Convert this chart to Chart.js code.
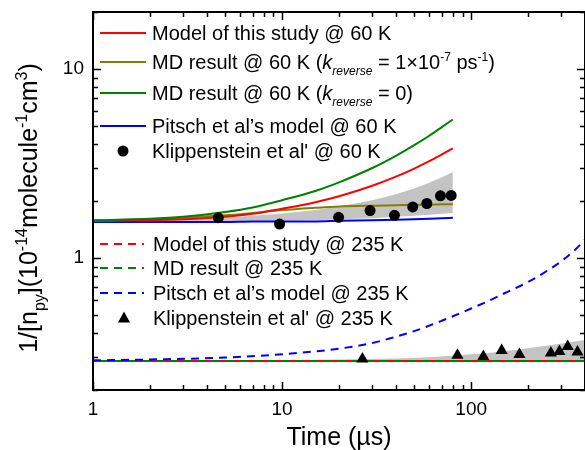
<!DOCTYPE html>
<html>
<head>
<meta charset="utf-8">
<script src="https://cdn.jsdelivr.net/npm/chart.js@4.4.1/dist/chart.umd.min.js"></script>
<style>
  html, body { margin: 0; padding: 0; background: #fff; }
  #wrap { width: 585px; height: 450px; }
</style>
</head>
<body>
<div id="wrap"><canvas id="chart" width="585" height="450"></canvas></div>
<script>
const FONT = 'Arial, "Liberation Sans", sans-serif';

// 60 K, solid curves (time in µs)
const t60 = [1, 2, 3, 5, 7, 10, 15, 20, 30, 40, 50, 60, 70, 80];
const model60 = [1.57, 1.58, 1.60, 1.65, 1.71, 1.82, 1.97, 2.12, 2.41, 2.69, 2.97, 3.25, 3.53, 3.80];
const mdRev60 = [1.57, 1.60, 1.63, 1.68, 1.73, 1.79, 1.84, 1.87, 1.89, 1.90, 1.91, 1.91, 1.92, 1.92];
const mdZero60 = [1.58, 1.61, 1.65, 1.75, 1.85, 2.02, 2.26, 2.51, 2.99, 3.47, 3.95, 4.43, 4.92, 5.40];
const pitsch60 = [1.55, 1.55, 1.55, 1.55, 1.56, 1.56, 1.56, 1.57, 1.58, 1.59, 1.60, 1.61, 1.62, 1.63];
const band60Upper = [1.57, 1.58, 1.60, 1.63, 1.67, 1.72, 1.79, 1.87, 2.02, 2.17, 2.33, 2.50, 2.67, 2.85];
const band60Lower = [1.55, 1.55, 1.55, 1.56, 1.56, 1.57, 1.58, 1.60, 1.62, 1.65, 1.67, 1.69, 1.71, 1.73];
const klipT60 = [4.6, 9.7, 19.9, 29.2, 39.3, 49.1, 58.3, 68.8, 78.4];
const klipV60 = [1.63, 1.51, 1.64, 1.78, 1.68, 1.86, 1.94, 2.13, 2.14];

// 235 K, dashed curves
const t235 = [1, 2, 5, 10, 20, 30, 50, 70, 100, 126, 150, 200, 250, 300, 350, 400];
const model235 = [0.285, 0.285, 0.285, 0.285, 0.285, 0.285, 0.285, 0.285, 0.285, 0.285, 0.285, 0.285, 0.285, 0.285, 0.285, 0.285];
const md235 = [0.285, 0.285, 0.285, 0.285, 0.285, 0.285, 0.285, 0.285, 0.285, 0.285, 0.285, 0.285, 0.285, 0.285, 0.285, 0.285];
const pitsch235 = [0.287, 0.29, 0.297, 0.309, 0.331, 0.355, 0.41, 0.465, 0.54, 0.597, 0.65, 0.745, 0.85, 0.96, 1.09, 1.25];
const tBand235 = [1, 10, 20, 40, 60, 85, 120, 170, 250, 400];
const band235Upper = [0.287, 0.288, 0.290, 0.294, 0.298, 0.305, 0.313, 0.326, 0.343, 0.368];
const band235Lower = [0.283, 0.283, 0.283, 0.283, 0.283, 0.283, 0.283, 0.283, 0.283, 0.283];
const klipT235 = [26.6, 84.6, 116, 145, 180, 264, 293, 324, 365];
const klipV235 = [0.292, 0.305, 0.301, 0.324, 0.308, 0.314, 0.320, 0.340, 0.318];

// axes
const xTicks = [1, 2, 3, 4, 5, 6, 7, 8, 9, 10, 20, 30, 40, 50, 60, 70, 80, 90, 100, 200, 300, 400];
const xLabels = { 1: '1', 10: '10', 100: '100' };
const yTicks = [0.2, 0.3, 0.4, 0.5, 0.6, 0.7, 0.8, 0.9, 1, 2, 3, 4, 5, 6, 7, 8, 9, 10, 20];
const yLabels = { 1: '1', 10: '10' };
const xTitle = 'Time (\u00b5s)';
const yTitle = [{ text: '1/[n' }, { text: 'py', sub: true }, { text: '](10' }, { text: '-14', sup: true },
  { text: 'molecule' }, { text: '-1', sup: true }, { text: 'cm' }, { text: '3', sup: true }, { text: ')' }];

const legend60 = [
  { color: '#ff0000', parts: [{ text: 'Model of this study @ 60 K' }] },
  { color: '#808000', parts: [{ text: 'MD result @ 60 K (' }, { text: 'k', italic: true }, { text: 'reverse', sub: true, italic: true },
    { text: ' = 1\u00d710' }, { text: '-7', sup: true }, { text: ' ps' }, { text: '-1', sup: true }, { text: ')' }] },
  { color: '#008000', parts: [{ text: 'MD result @ 60 K (' }, { text: 'k', italic: true }, { text: 'reverse', sub: true, italic: true }, { text: ' = 0)' }] },
  { color: '#0000ff', parts: [{ text: 'Pitsch et al\u2019s model @ 60 K' }] },
  { marker: 'circle', parts: [{ text: "Klippenstein et al' @ 60 K" }] }
];
const legend235 = [
  { color: '#ff0000', dash: true, parts: [{ text: 'Model of this study @ 235 K' }] },
  { color: '#008000', dash: true, parts: [{ text: 'MD result @ 235 K' }] },
  { color: '#0000ff', dash: true, parts: [{ text: 'Pitsch et al\u2019s model @ 235 K' }] },
  { marker: 'triangle', parts: [{ text: "Klippenstein et al' @ 235 K" }] }
];

const pts = (xs, ys) => xs.map((x, i) => ({ x, y: ys[i] }));

const lineSet = (data, color, dashed, offset = 0) => ({
  data, borderColor: color, borderWidth: 2, pointRadius: 0, fill: false,
  borderDash: dashed ? [8, 6] : [], borderDashOffset: offset, cubicInterpolationMode: 'monotone'
});
const bandSet = (data, fill) => ({
  data, borderWidth: 0, pointRadius: 0, fill, backgroundColor: '#c3c3c3', borderColor: 'rgba(0,0,0,0)'
});
const markerSet = (data, style, r) => ({
  data, showLine: false, pointStyle: style, pointRadius: r, pointBackgroundColor: '#000', pointBorderColor: '#000', pointBorderWidth: 0
});

const drawRich = (ctx, parts, x, y, size, scale = 0.64) => {
  let cx = x;
  parts.forEach(p => {
    const small = p.sub || p.sup;
    const fs = small ? Math.round(size * scale) : size;
    ctx.font = `${p.italic ? 'italic ' : ''}${fs}px ${FONT}`;
    const dy = p.sub ? size * 0.32 : p.sup ? -size * 0.42 : 0;
    ctx.fillText(p.text, cx, y + dy);
    cx += ctx.measureText(p.text).width;
  });
  return cx - x;
};

const measureRich = (ctx, parts, size, scale = 0.64) => {
  let w = 0;
  parts.forEach(p => {
    const fs = (p.sub || p.sup) ? Math.round(size * scale) : size;
    ctx.font = `${p.italic ? 'italic ' : ''}${fs}px ${FONT}`;
    w += ctx.measureText(p.text).width;
  });
  return w;
};

const drawLegendBlock = (ctx, items, x0, x1, ys, textX) => {
  items.forEach((it, i) => {
    const y = ys[i];
    if (it.marker) {
      ctx.fillStyle = '#000';
      ctx.beginPath();
      if (it.marker === 'circle') {
        ctx.arc((x0 + x1) / 2, y, 5.5, 0, Math.PI * 2);
      } else {
        const cx = (x0 + x1) / 2 + 2;
        ctx.moveTo(cx, y - 6.5); ctx.lineTo(cx + 6, y + 4.5); ctx.lineTo(cx - 6, y + 4.5); ctx.closePath();
      }
      ctx.fill();
    } else {
      ctx.strokeStyle = it.color; ctx.lineWidth = 2;
      ctx.setLineDash(it.dash ? [8, 6] : []);
      ctx.beginPath(); ctx.moveTo(x0, y); ctx.lineTo(x1, y); ctx.stroke();
      ctx.setLineDash([]);
    }
    ctx.fillStyle = '#000';
    ctx.textBaseline = 'alphabetic';
    drawRich(ctx, it.parts, textX, y + 7, 20, 0.58);
  });
};

const noPad = s => { s.paddingTop = 0; s.paddingBottom = 0; s.paddingLeft = 0; s.paddingRight = 0; };

const framePlugin = {
  id: 'frame',
  afterDraw(chart) {
    const { ctx, chartArea: a, scales: { x, y } } = chart;
    ctx.save();
    ctx.strokeStyle = '#000';
    ctx.lineWidth = 1.5;
    ctx.beginPath();
    xTicks.forEach(v => {
      const px = Math.round(x.getPixelForValue(v)) + 0.5;
      const len = xLabels[v] ? 8 : 5;
      ctx.moveTo(px, a.bottom); ctx.lineTo(px, a.bottom - len);
      ctx.moveTo(px, a.top); ctx.lineTo(px, a.top + len);
    });
    yTicks.forEach(v => {
      const py = Math.round(y.getPixelForValue(v)) + 0.5;
      const len = yLabels[v] ? 8 : 5;
      ctx.moveTo(a.left, py); ctx.lineTo(a.left + len, py);
      ctx.moveTo(a.right, py); ctx.lineTo(a.right - len, py);
    });
    ctx.stroke();
    ctx.lineWidth = 2;
    ctx.strokeRect(a.left, a.top, a.right - a.left, a.bottom - a.top);

    // legends
    drawLegendBlock(ctx, legend60, 100, 146, [33, 62, 93, 126, 151], 152);
    drawLegendBlock(ctx, legend235, 100, 144, [244, 268, 293, 318], 153);

    // axis titles
    ctx.fillStyle = '#000';
    ctx.textAlign = 'center';
    ctx.font = `25px ${FONT}`;
    ctx.fillText(xTitle, (a.left + a.right) / 2, 445);
    ctx.textAlign = 'left';
    const w = measureRich(ctx, yTitle, 25);
    ctx.translate(37, 208);
    ctx.rotate(-Math.PI / 2);
    drawRich(ctx, yTitle, -w / 2, 0, 25);
    ctx.restore();
  }
};

// first dataset in the list is drawn on top
new Chart(document.getElementById('chart'), {
  type: 'line',
  data: {
    datasets: [
      markerSet(pts(klipT235, klipV235), 'triangle', 7),
      markerSet(pts(klipT60, klipV60), 'circle', 5.5),
      lineSet(pts(t60, mdZero60), '#008000', false),
      lineSet(pts(t60, model60), '#ff0000', false),
      lineSet(pts(t60, mdRev60), '#808000', false),
      lineSet(pts(t60, pitsch60), '#0000ff', false),
      lineSet(pts(t235, pitsch235), '#0000ff', true),
      lineSet(pts(t235, md235), '#008000', true, 7),
      lineSet(pts(t235, model235), '#ff0000', true),
      bandSet(pts(tBand235, band235Upper), '+1'),
      bandSet(pts(tBand235, band235Lower), false),
      bandSet(pts(t60, band60Upper), '+1'),
      bandSet(pts(t60, band60Lower), false)
    ]
  },
  options: {
    responsive: false,
    animation: false,
    events: [],
    layout: { autoPadding: false, padding: { top: 12, right: 0, left: 0, bottom: 0 } },
    plugins: { legend: { display: false }, tooltip: { enabled: false } },
    scales: {
      x: {
        type: 'logarithmic', min: 1, max: 400,
        grid: { display: false, drawTicks: false },
        border: { display: false },
        afterBuildTicks: s => { s.ticks = xTicks.map(v => ({ value: v })); },
        afterFit: s => { s.height = 60; noPad(s); },
        ticks: {
          autoSkip: false, maxRotation: 0, padding: 8, color: '#000',
          font: { family: FONT, size: 19 },
          callback: v => xLabels[v] || ''
        }
      },
      y: {
        type: 'logarithmic', min: 0.2, max: 20,
        grid: { display: false, drawTicks: false },
        border: { display: false },
        afterBuildTicks: s => { s.ticks = yTicks.map(v => ({ value: v })); },
        afterFit: s => { s.width = 93; noPad(s); },
        ticks: {
          autoSkip: false, padding: 9, color: '#000',
          font: { family: FONT, size: 19 },
          callback: v => yLabels[v] || ''
        }
      }
    }
  },
  plugins: [framePlugin]
});
</script>
</body>
</html>
